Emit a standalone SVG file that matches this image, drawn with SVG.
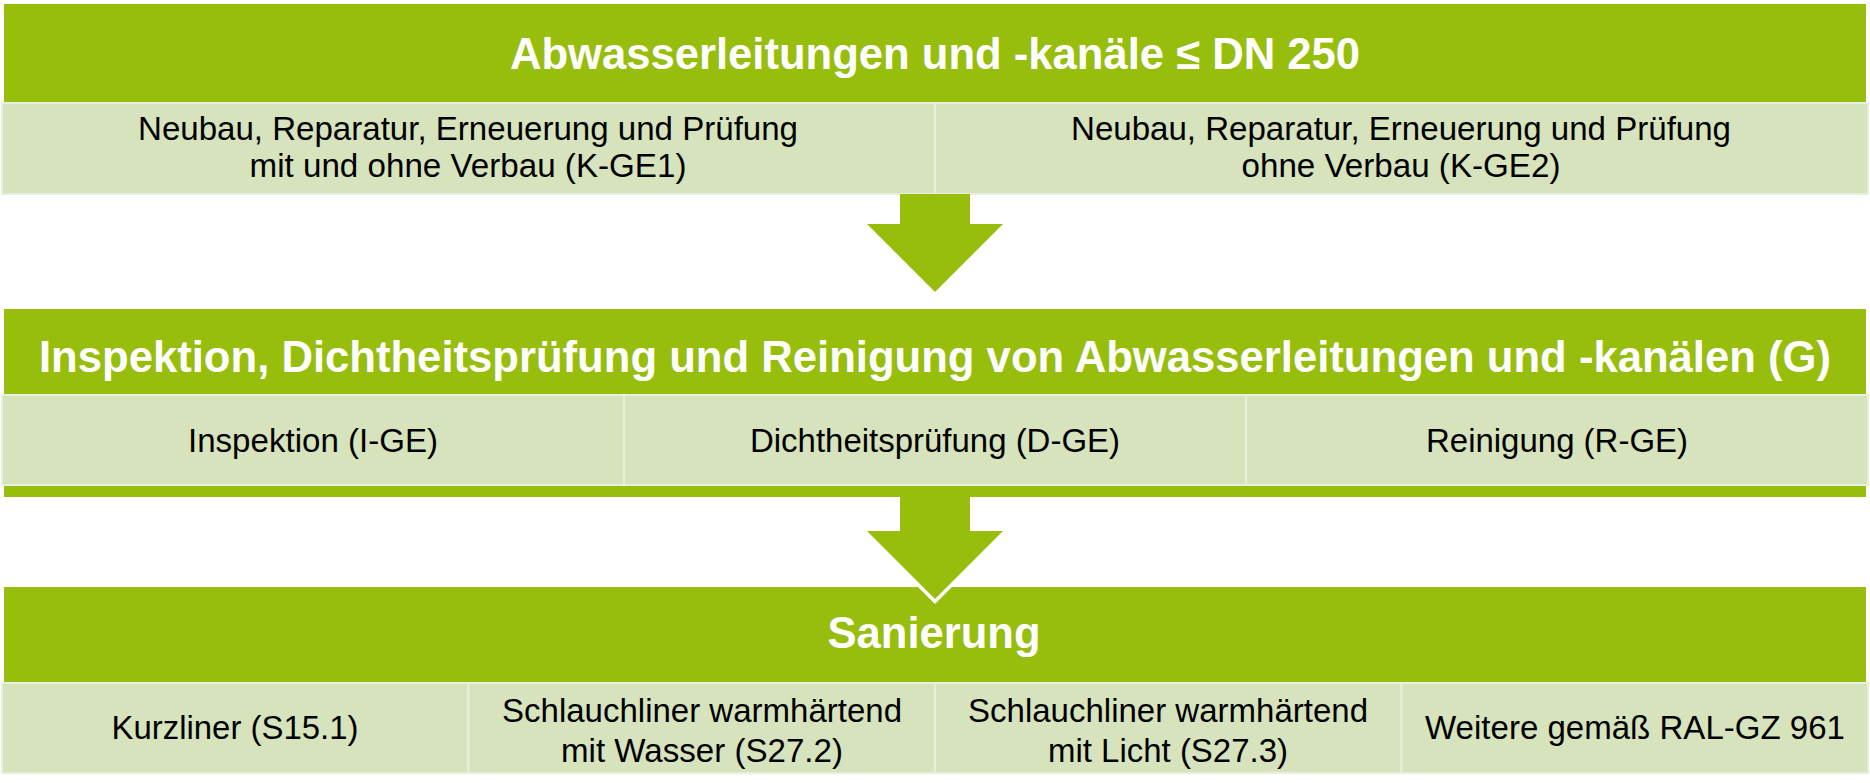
<svg xmlns="http://www.w3.org/2000/svg" width="1870" height="783" viewBox="0 0 1870 783">
  <style>
    .bar { fill: #97BE0D; }
    .cell { fill: #D6E3BC; stroke: #E8EFDC; stroke-width: 2; }
    .title { font-family: "Liberation Sans", Arial, sans-serif; font-weight: 700; font-size: 44px; fill: #FFFFFF; text-anchor: middle; }
    .body { font-family: "Liberation Sans", Arial, sans-serif; font-size: 33px; fill: #000000; text-anchor: middle; }
    .arrow { fill: #97BE0D; }
    .halo { fill: none; stroke: #FFFFFF; stroke-width: 7; stroke-linejoin: miter; }
  </style>
  <rect width="1870" height="783" fill="#FFFFFF"/>

  <g id="block-kanal">
    <rect class="bar" x="4" y="4" width="1862" height="99"/>
    <text class="title" x="935" y="69" textLength="850" lengthAdjust="spacingAndGlyphs">Abwasserleitungen und -kanäle ≤ DN 250</text>
    <g id="cell-kge1">
      <rect class="cell" x="2" y="103" width="933" height="91"/>
      <text class="body" x="468" y="140" textLength="660" lengthAdjust="spacingAndGlyphs">Neubau, Reparatur, Erneuerung und Prüfung</text>
      <text class="body" x="468" y="177" textLength="437" lengthAdjust="spacingAndGlyphs">mit und ohne Verbau (K-GE1)</text>
    </g>
    <g id="cell-kge2">
      <rect class="cell" x="935" y="103" width="933" height="91"/>
      <text class="body" x="1401" y="140" textLength="660" lengthAdjust="spacingAndGlyphs">Neubau, Reparatur, Erneuerung und Prüfung</text>
      <text class="body" x="1401" y="177" textLength="319" lengthAdjust="spacingAndGlyphs">ohne Verbau (K-GE2)</text>
    </g>
  </g>

  <g id="block-sanierung">
    <rect class="bar" x="4" y="587" width="1862" height="96"/>
    <text class="title" x="934" y="648" textLength="213" lengthAdjust="spacingAndGlyphs">Sanierung</text>
    <g id="cell-s151">
      <rect class="cell" x="2" y="683" width="466.5" height="90"/>
      <text class="body" x="235" y="739" textLength="247" lengthAdjust="spacingAndGlyphs">Kurzliner (S15.1)</text>
    </g>
    <g id="cell-s272">
      <rect class="cell" x="468.5" y="683" width="466.5" height="90"/>
      <text class="body" x="702" y="722" textLength="400" lengthAdjust="spacingAndGlyphs">Schlauchliner warmhärtend</text>
      <text class="body" x="702" y="762" textLength="282" lengthAdjust="spacingAndGlyphs">mit Wasser (S27.2)</text>
    </g>
    <g id="cell-s273">
      <rect class="cell" x="935" y="683" width="466.5" height="90"/>
      <text class="body" x="1168" y="722" textLength="400" lengthAdjust="spacingAndGlyphs">Schlauchliner warmhärtend</text>
      <text class="body" x="1168" y="762" textLength="240" lengthAdjust="spacingAndGlyphs">mit Licht (S27.3)</text>
    </g>
    <g id="cell-ral">
      <rect class="cell" x="1401.5" y="683" width="466.5" height="90"/>
      <text class="body" x="1635" y="739" textLength="420" lengthAdjust="spacingAndGlyphs">Weitere gemäß RAL-GZ 961</text>
    </g>
  </g>

  <g id="connectors">
    <path id="arrow-1" class="arrow" d="M900,194 L970,194 L970,224 L1003,224 L935,292 L867,224 L900,224 Z"/>
    <g id="arrow-2">
      <path class="halo" d="M867,531 L935,599 L1003,531"/>
      <path class="arrow" d="M900,490 L970,490 L970,531 L1003,531 L935,599 L867,531 L900,531 Z"/>
    </g>
  </g>

  <g id="block-pruefung">
    <rect class="bar" x="4" y="309" width="1862" height="188"/>
    <text class="title" x="935" y="372" textLength="1792" lengthAdjust="spacingAndGlyphs">Inspektion, Dichtheitsprüfung und Reinigung von Abwasserleitungen und -kanälen (G)</text>
    <g id="cell-ige">
      <rect class="cell" x="2" y="395" width="622" height="90"/>
      <text class="body" x="313" y="452" textLength="250" lengthAdjust="spacingAndGlyphs">Inspektion (I-GE)</text>
    </g>
    <g id="cell-dge">
      <rect class="cell" x="624" y="395" width="622" height="90"/>
      <text class="body" x="935" y="452" textLength="370" lengthAdjust="spacingAndGlyphs">Dichtheitsprüfung (D-GE)</text>
    </g>
    <g id="cell-rge">
      <rect class="cell" x="1246" y="395" width="622" height="90"/>
      <text class="body" x="1557" y="452" textLength="262" lengthAdjust="spacingAndGlyphs">Reinigung (R-GE)</text>
    </g>
  </g>
</svg>
